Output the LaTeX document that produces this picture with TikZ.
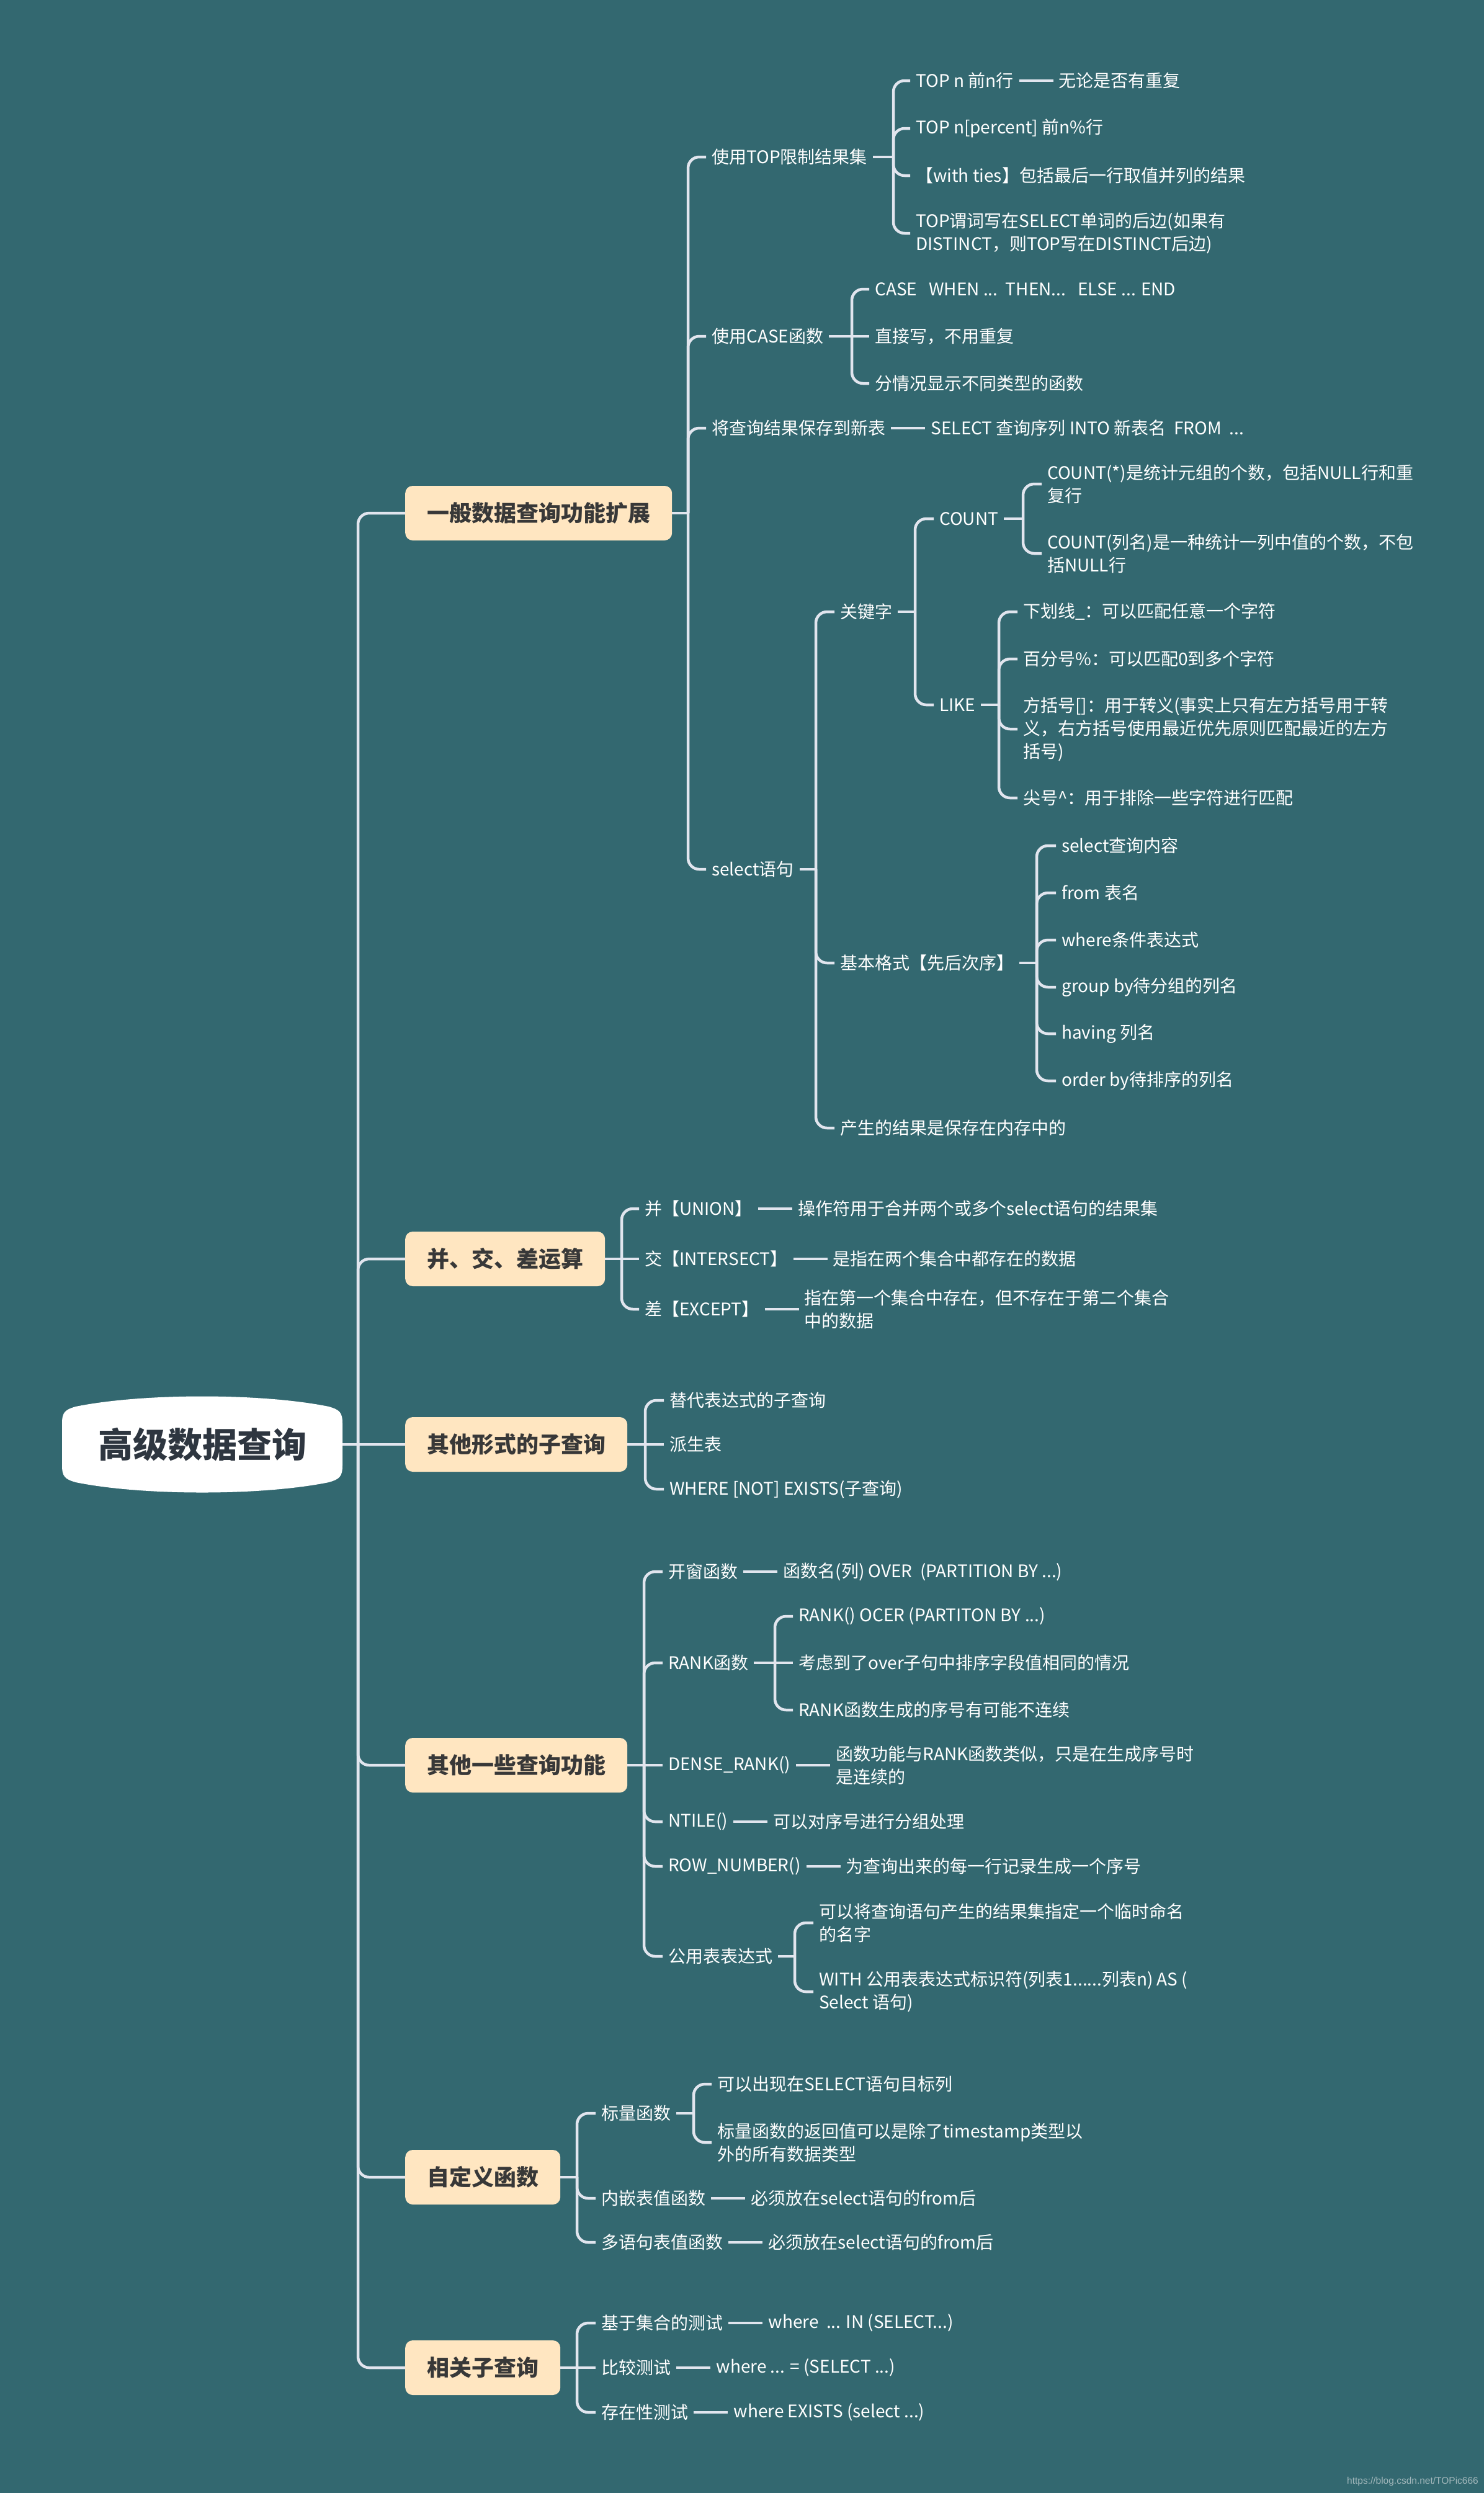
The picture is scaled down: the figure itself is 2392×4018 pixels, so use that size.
\documentclass[tikz,border=0pt]{standalone}
\usepackage{fontspec}
\setmainfont{Noto Sans CJK SC}
\newfontfamily\wmfont{Liberation Sans}
\usetikzlibrary{positioning}
\definecolor{bg}{HTML}{336870}
\definecolor{lc}{HTML}{E1E5EE}
\definecolor{boxfill}{HTML}{FFE6C1}
\definecolor{boxtext}{HTML}{383838}
\definecolor{roottext}{HTML}{2E3640}
\definecolor{wmc}{HTML}{A3B8BC}
\tikzset{
 leaf/.style={anchor=west, text=white, font=\fontsize{28pt}{37pt}\selectfont, inner xsep=9pt, inner ysep=3pt, align=left},
 mainbox/.style={anchor=west, fill=boxfill, text=boxtext, rounded corners=12pt, font=\fontsize{36pt}{40pt}\selectfont\bfseries, inner xsep=35pt, minimum height=88pt},
 conn/.style={draw=lc, line width=4.5pt, rounded corners=18pt},
 dashlink/.style={draw=lc, line width=4.5pt},
}
\begin{document}
\begin{tikzpicture}[x=1pt,y=-1pt]
\useasboundingbox (0,0) rectangle (2392,4018);
\fill[bg] (0,0) rectangle (2392,4018);
% root shape
\begin{scope}[shift={(0,2328)}]
\fill[white] (100,-34) .. controls (100,-52) and (105,-56) .. (122,-61)
  .. controls (230,-83) and (422,-83) .. (530,-61)
  .. controls (547,-56) and (552,-52) .. (552,-34) -- (552,34)
  .. controls (552,52) and (547,56) .. (530,61)
  .. controls (422,83) and (230,83) .. (122,61)
  .. controls (105,56) and (100,52) .. (100,34) -- cycle;
\end{scope}
\node[minimum width=452pt, minimum height=140pt, inner sep=0pt, text=roottext, font=\fontsize{56pt}{60pt}\selectfont\bfseries] (root) at (326,2328) {高级数据查询};
\coordinate (jr) at (577,2328);

% main boxes
\node[mainbox] (b1) at (653,827) {一般数据查询功能扩展};
\node[mainbox] (b2) at (653,2029) {并、交、差运算};
\node[mainbox] (b3) at (653,2328) {其他形式的子查询};
\node[mainbox] (b4) at (653,2845) {其他一些查询功能};
\node[mainbox] (b5) at (653,3509) {自定义函数};
\node[mainbox] (b6) at (653,3816) {相关子查询};

\draw[conn] (root.east) -- (jr);
\draw[conn] (jr) |- (b1.west);
\draw[conn] (jr) |- (b2.west);
\draw[conn] (jr) -- (b3.west);
\draw[conn] (jr) |- (b4.west);
\draw[conn] (jr) |- (b5.west);
\draw[conn] (jr) |- (b6.west);

% ---------- section 1
\coordinate (j1) at (1109,827);
\node[leaf] (top) at (1138,253) {使用TOP限制结果集};
\node[leaf] (case) at (1138,542) {使用CASE函数};
\node[leaf] (save) at (1138,690) {将查询结果保存到新表};
\node[leaf, right=55pt of save] (saveb) {SELECT 查询序列 INTO 新表名\ \ FROM\ \ ...};
\node[leaf] (sel) at (1138,1401) {select语句};
\draw[conn] (b1.east) -- (j1);
\foreach \n in {top,case,save,sel} \draw[conn] (j1) |- (\n.west);
\draw[dashlink] (save.east) -- (saveb.west);

\coordinate (j11) at (1440,253);
\node[leaf] (t1) at (1467,130) {TOP n 前n行};
\node[leaf, right=55pt of t1] (t1b) {无论是否有重复};
\node[leaf] (t2) at (1467,207) {TOP n[percent] 前n\%行};
\node[leaf] (t3) at (1467,283) {【with ties】包括最后一行取值并列的结果};
\node[leaf] (t4) at (1467,376) {TOP谓词写在SELECT单词的后边(如果有\\DISTINCT，则TOP写在DISTINCT后边)};
\draw[conn] (top.east) -- (j11);
\foreach \n in {t1,t2,t3,t4} \draw[conn] (j11) |- (\n.west);
\draw[dashlink] (t1.east) -- (t1b.west);

\coordinate (j12) at (1373,542);
\node[leaf] (c1) at (1401,466) {CASE\ \ \ WHEN ...\ \ THEN...\ \ \ ELSE ... END};
\node[leaf] (c2) at (1401,542) {直接写，不用重复};
\node[leaf] (c3) at (1401,618) {分情况显示不同类型的函数};
\draw[conn] (case.east) -- (j12);
\draw[conn] (j12) |- (c1.west);
\draw[conn] (j12) -- (c2.west);
\draw[conn] (j12) |- (c3.west);

\coordinate (j14) at (1315,1401);
\node[leaf] (kw) at (1345,986) {关键字};
\node[leaf] (fmt) at (1345,1552) {基本格式【先后次序】};
\node[leaf] (mem) at (1345,1818) {产生的结果是保存在内存中的};
\draw[conn] (sel.east) -- (j14);
\foreach \n in {kw,fmt,mem} \draw[conn] (j14) |- (\n.west);

\coordinate (j141) at (1475,986);
\node[leaf] (cnt) at (1505,836) {COUNT};
\node[leaf] (like) at (1505,1136) {LIKE};
\draw[conn] (kw.east) -- (j141);
\foreach \n in {cnt,like} \draw[conn] (j141) |- (\n.west);

\coordinate (j1411) at (1649,836);
\node[leaf] (cn1) at (1679,780) {COUNT(*)是统计元组的个数，包括NULL行和重\\复行};
\node[leaf] (cn2) at (1679,892) {COUNT(列名)是一种统计一列中值的个数，不包\\括NULL行};
\draw[conn] (cnt.east) -- (j1411);
\foreach \n in {cn1,cn2} \draw[conn] (j1411) |- (\n.west);

\coordinate (j1412) at (1610,1136);
\node[leaf] (lk1) at (1640,986) {下划线\_：可以匹配任意一个字符};
\node[leaf] (lk2) at (1640,1062) {百分号\%：可以匹配0到多个字符};
\node[leaf] (lk3) at (1640,1175) {方括号[]：用于转义(事实上只有左方括号用于转\\义，右方括号使用最近优先原则匹配最近的左方\\括号)};
\node[leaf] (lk4) at (1640,1286) {尖号\textasciicircum：用于排除一些字符进行匹配};
\draw[conn] (like.east) -- (j1412);
\foreach \n in {lk1,lk2,lk3,lk4} \draw[conn] (j1412) |- (\n.west);

\coordinate (j142) at (1671,1552);
\node[leaf] (f1) at (1702,1363) {select查询内容};
\node[leaf] (f2) at (1702,1439) {from 表名};
\node[leaf] (f3) at (1702,1515) {where条件表达式};
\node[leaf] (f4) at (1702,1591) {group by待分组的列名};
\node[leaf] (f5) at (1702,1666) {having 列名};
\node[leaf] (f6) at (1702,1742) {order by待排序的列名};
\draw[conn] (fmt.east) -- (j142);
\foreach \n in {f1,f2,f3,f4,f5,f6} \draw[conn] (j142) |- (\n.west);

% ---------- section 2
\coordinate (j2) at (1002,2029);
\node[leaf] (u1) at (1030,1948) {并【UNION】};
\node[leaf, right=55pt of u1] (u1b) {操作符用于合并两个或多个select语句的结果集};
\node[leaf] (u2) at (1030,2029) {交【INTERSECT】};
\node[leaf, right=55pt of u2] (u2b) {是指在两个集合中都存在的数据};
\node[leaf] (u3) at (1030,2110) {差【EXCEPT】};
\node[leaf, right=55pt of u3] (u3b) {指在第一个集合中存在，但不存在于第二个集合\\中的数据};
\draw[conn] (b2.east) -- (j2);
\draw[conn] (j2) |- (u1.west);
\draw[conn] (j2) -- (u2.west);
\draw[conn] (j2) |- (u3.west);
\draw[dashlink] (u1.east) -- (u1b.west);
\draw[dashlink] (u2.east) -- (u2b.west);
\draw[dashlink] (u3.east) -- (u3b.west);

% ---------- section 3
\coordinate (j3) at (1040,2328);
\node[leaf] (s1) at (1070,2257) {替代表达式的子查询};
\node[leaf] (s2) at (1070,2328) {派生表};
\node[leaf] (s3) at (1070,2400) {WHERE [NOT] EXISTS(子查询)};
\draw[conn] (b3.east) -- (j3);
\draw[conn] (j3) |- (s1.west);
\draw[conn] (j3) -- (s2.west);
\draw[conn] (j3) |- (s3.west);

% ---------- section 4
\coordinate (j4) at (1038,2845);
\node[leaf] (w1) at (1068,2533) {开窗函数};
\node[leaf, right=55pt of w1] (w1b) {函数名(列) OVER\ \ (PARTITION BY ...)};
\node[leaf] (rk) at (1068,2680) {RANK函数};
\node[leaf] (dr) at (1068,2845) {DENSE\_RANK()};
\node[leaf, right=55pt of dr] (drb) {函数功能与RANK函数类似，只是在生成序号时\\是连续的};
\node[leaf] (nt) at (1068,2936) {NTILE()};
\node[leaf, right=55pt of nt] (ntb) {可以对序号进行分组处理};
\node[leaf] (rn) at (1068,3008) {ROW\_NUMBER()};
\node[leaf, right=55pt of rn] (rnb) {为查询出来的每一行记录生成一个序号};
\node[leaf] (cte) at (1068,3153) {公用表表达式};
\draw[conn] (b4.east) -- (j4);
\draw[conn] (j4) |- (w1.west);
\draw[conn] (j4) |- (rk.west);
\draw[conn] (j4) -- (dr.west);
\draw[conn] (j4) |- (nt.west);
\draw[conn] (j4) |- (rn.west);
\draw[conn] (j4) |- (cte.west);
\draw[dashlink] (w1.east) -- (w1b.west);
\draw[dashlink] (dr.east) -- (drb.west);
\draw[dashlink] (nt.east) -- (ntb.west);
\draw[dashlink] (rn.east) -- (rnb.west);

\coordinate (j42) at (1249,2680);
\node[leaf] (r1) at (1278,2605) {RANK() OCER (PARTITON BY ...)};
\node[leaf] (r2) at (1278,2680) {考虑到了over子句中排序字段值相同的情况};
\node[leaf] (r3) at (1278,2756) {RANK函数生成的序号有可能不连续};
\draw[conn] (rk.east) -- (j42);
\draw[conn] (j42) |- (r1.west);
\draw[conn] (j42) -- (r2.west);
\draw[conn] (j42) |- (r3.west);

\coordinate (j46) at (1281,3153);
\node[leaf] (e1) at (1311,3099) {可以将查询语句产生的结果集指定一个临时命名\\的名字};
\node[leaf] (e2) at (1311,3210) {WITH 公用表表达式标识符(列表1......列表n) AS (\\Select 语句)};
\draw[conn] (cte.east) -- (j46);
\foreach \n in {e1,e2} \draw[conn] (j46) |- (\n.west);

% ---------- section 5
\coordinate (j5) at (930,3509);
\node[leaf] (sc) at (960,3406) {标量函数};
\node[leaf] (inl) at (960,3543) {内嵌表值函数};
\node[leaf, right=55pt of inl] (inlb) {必须放在select语句的from后};
\node[leaf] (ms) at (960,3614) {多语句表值函数};
\node[leaf, right=55pt of ms] (msb) {必须放在select语句的from后};
\draw[conn] (b5.east) -- (j5);
\foreach \n in {sc,inl,ms} \draw[conn] (j5) |- (\n.west);
\draw[dashlink] (inl.east) -- (inlb.west);
\draw[dashlink] (ms.east) -- (msb.west);

\coordinate (j51) at (1118,3406);
\node[leaf] (sc1) at (1147,3359) {可以出现在SELECT语句目标列};
\node[leaf] (sc2) at (1147,3453) {标量函数的返回值可以是除了timestamp类型以\\外的所有数据类型};
\draw[conn] (sc.east) -- (j51);
\foreach \n in {sc1,sc2} \draw[conn] (j51) |- (\n.west);

% ---------- section 6
\coordinate (j6) at (930,3816);
\node[leaf] (k1) at (960,3744) {基于集合的测试};
\node[leaf, right=55pt of k1] (k1b) {where\ \ ... IN (SELECT...)};
\node[leaf] (k2) at (960,3816) {比较测试};
\node[leaf, right=55pt of k2] (k2b) {where ... = (SELECT ...)};
\node[leaf] (k3) at (960,3888) {存在性测试};
\node[leaf, right=55pt of k3] (k3b) {where EXISTS (select ...)};
\draw[conn] (b6.east) -- (j6);
\draw[conn] (j6) |- (k1.west);
\draw[conn] (j6) -- (k2.west);
\draw[conn] (j6) |- (k3.west);
\draw[dashlink] (k1.east) -- (k1b.west);
\draw[dashlink] (k2.east) -- (k2b.west);
\draw[dashlink] (k3.east) -- (k3b.west);

% watermark
\node[anchor=east, text=wmc, font=\wmfont\fontsize{15.5pt}{18pt}\selectfont, inner sep=0pt] (wm) at (2383,3999) {https://blog.csdn.net/TOPic666};
\end{tikzpicture}
\end{document}
